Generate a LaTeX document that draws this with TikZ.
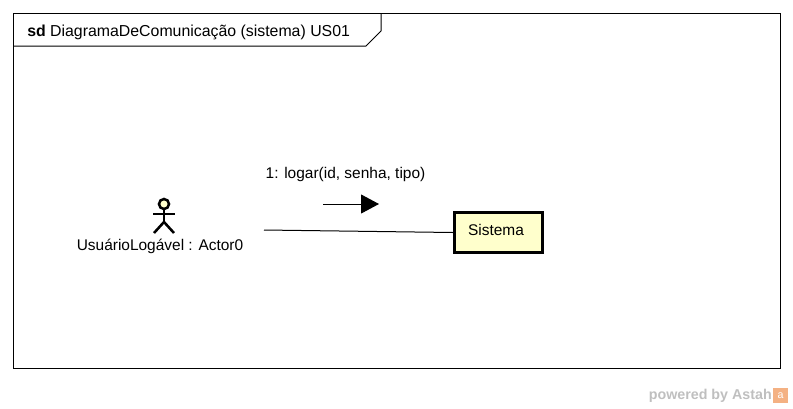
\documentclass[tikz,border=0pt]{standalone}
\usepackage{fontspec}
\setmainfont{Liberation Sans}
\usepackage{xcolor}
\usetikzlibrary{arrows.meta}
\definecolor{umlyellow}{HTML}{FFFFCC}
\definecolor{astahorange}{HTML}{F4B183}
\tikzset{
  umltext/.style={font=\fontsize{11.6}{14}\selectfont, inner sep=0pt},
  umlline/.style={black, line width=0.75pt},
  actorline/.style={black, line width=1.9pt}
}

\begin{document}
\begin{tikzpicture}[x=0.75pt, y=-0.75pt]
        \useasboundingbox (0,0) rectangle (793,408);

        % Frame and its tab
        \node[draw, umlline, minimum width=767*0.75pt, minimum height=355*0.75pt, inner sep=0pt, anchor=north west] (frame) at (13,13) {};
        \draw[umlline] (13,46) -- (366,46) -- (381,31) -- (381,13);
        \node[umltext, font=\fontsize{11.9}{14}\selectfont, anchor=west] (title) at (27,32) {\textbf{sd} DiagramaDeComunicação (sistema) US01};

        % Actor
        \node[draw, actorline, fill=umlyellow, circle, minimum size=10*0.75pt, inner sep=0pt] (head) at (164,204) {};
        \coordinate (hip) at (164,222);
        \coordinate (armL) at (153,214);
        \coordinate (armR) at (175,214);
        \coordinate (footL) at (154,233);
        \coordinate (footR) at (174,233);
        \draw[actorline] (head) -- (hip);
        \draw[actorline] (armL) -- (armR);
        \draw[actorline] (footL) -- (hip) -- (footR);
        \node[umltext] (actor) at (160,246) {UsuárioLogável : Actor0};

        % Lifeline object
        \node[draw, line width=2.25pt, fill=umlyellow, minimum width=88*0.75pt, minimum height=40*0.75pt, inner sep=0pt] (sistema) at (498.5,232.5) {};
        \node[umltext] (sistemaLabel) at (496,230) {Sistema};

        % Link and message
        \coordinate (linkStart) at (264,230);
        \draw[umlline] (linkStart) -- (sistema.west);
        \coordinate (msgStart) at (323,204);
        \coordinate (msgEnd) at (379,204);
        \draw[umlline, -{Triangle[length=18*0.75pt, width=19*0.75pt]}] (msgStart) -- (msgEnd);
        \node[umltext] (msgLabel) at (345.5,174.5) {1: logar(id, senha, tipo)};

        % Watermark
        \node[font=\fontsize{10.7}{12}\selectfont\bfseries, text=black!25, inner sep=0pt, anchor=east] (powered) at (772,396) {powered by Astah};
        \node[fill=astahorange, text=white, font=\fontsize{8}{8}\selectfont, minimum size=15*0.75pt, inner sep=0pt] (logo) at (780.5,395.5) {a};
    \end{tikzpicture}
\end{document}
